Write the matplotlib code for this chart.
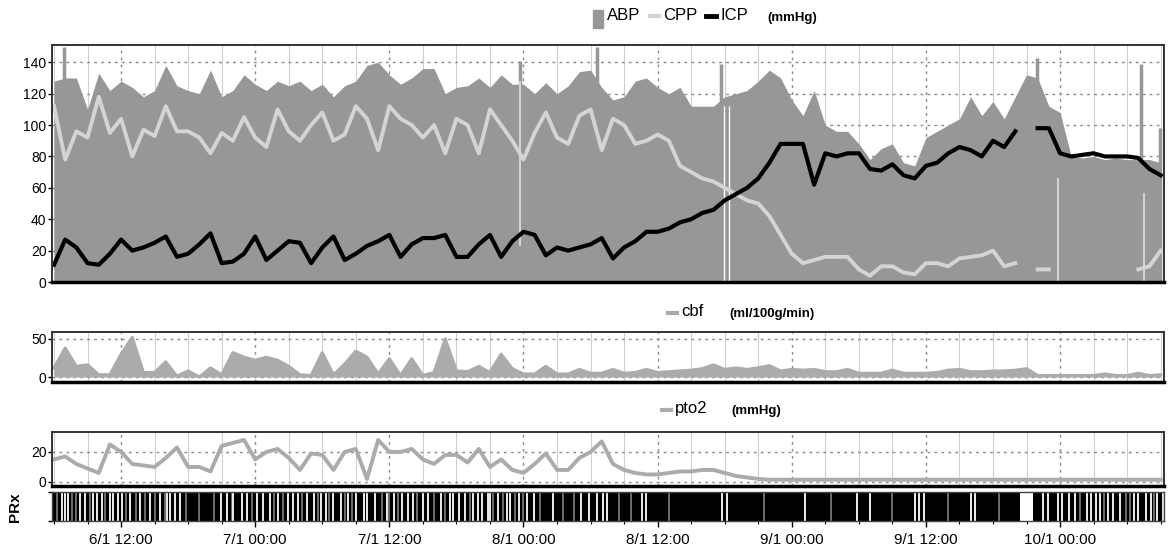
import matplotlib.pyplot as plt
import numpy as np
from matplotlib.patches import Rectangle
from matplotlib.lines import Line2D

plt.rcParams['font.family'] = ['Liberation Sans', 'DejaVu Sans']

nan = np.nan

# hourly samples, hours counted from 6/1 00:00
hours = np.arange(6, 106)

abp = [128, 130, 130, 110, 133, 122, 128, 124, 118, 122, 138, 125, 122, 120, 135, 118,
       122, 132, 126, 122, 128, 125, 128, 122, 126, 118, 125, 128, 138, 140, 132, 126,
       130, 136, 136, 120, 124, 125, 130, 124, 132, 126, 126, 120, 127, 120, 125, 134,
       135, 124, 116, 118, 128, 130, 124, 120, 124, 112, 112, 112, 118, 120, 122, 128,
       135, 130,
       116, 106, 122, 100, 96, 96, 88, 78, 85, 88, 76, 74, 92, 96, 100, 104,
       118, 106, 115, 104, 118, 132, 130, 112, 108, 80, 79, 80, 78, 79, 78, 78,
       78, 76]

# narrow ABP spikes (hour, peak value)
abp_spike_hours = [6.9, 47.7, 54.6, 65.7, 93.9, 103.2, 104.9]
abp_spike_tops = [150, 141, 150, 139, 143, 139, 98]
# hours where ABP drops out (thin white gaps)
abp_gap_hours = [65.95, 66.4]

cpp = [112, 78, 96, 92, 118, 95, 104, 80, 97, 93, 112, 96, 96, 92, 82, 95,
       90, 105, 92, 86, 110, 96, 90, 100, 108, 90, 94, 112, 104, 84, 112, 104,
       100, 92, 100, 82, 104, 100, 82, 110, 100, 90, 78, 95, 108, 92, 88, 106,
       110, 84, 104, 100, 88, 90, 94, 90, 74, 70, 66, 64, 60, 56, 52, 50,
       42, 30,
       18, 12, 14, 16, 16, 16, 8, 4, 10, 10, 6, 5, 12, 12, 10, 15,
       16, 17, 20, 10, 12, nan, 8, 8, nan, nan, nan, nan, 4, nan, nan, 8,
       10, 20]

# short CPP artefact spikes (hour, from, to)
cpp_spike_hours = [47.7, 95.8, 103.5]
cpp_spike_lows = [23, 0, 0]
cpp_spike_tops = [128, 66, 57]

icp = [11, 27, 22, 12, 11, 18, 27, 20, 22, 25, 29, 16, 18, 24, 31, 12,
       13, 18, 29, 14, 20, 26, 25, 12, 22, 29, 14, 18, 23, 26, 30, 16,
       24, 28, 28, 30, 16, 16, 24, 30, 16, 26, 32, 30, 17, 22, 20, 22,
       24, 28, 15, 22, 26, 32, 32, 34, 38, 40, 44, 46, 52, 56, 60, 66,
       76, 88,
       88, 88, 62, 82, 80, 82, 82, 72, 71, 75, 68, 66, 74, 76, 82, 86,
       84, 80, 90, 86, 96, nan, 98, 98, 82, 80, 81, 82, 80, 80, 80, 79,
       72, 68]

cbf = [12, 38, 14, 16, 3, 3, 30, 52, 6, 6, 20, 1, 8, 0, 12, 3,
       32, 26, 22, 26, 22, 14, 3, 2, 32, 3, 17, 34, 26, 4, 24, 2,
       24, 2, 6, 50, 8, 7, 14, 6, 30, 11, 4, 4, 14, 4, 4, 10,
       5, 5, 10, 5, 6, 10, 6, 7, 8, 9, 11, 16, 10, 12, 10, 12,
       15, 8, 10, 9, 10, 7, 7, 10, 5, 5, 5, 9, 5, 5, 5, 6,
       9, 10, 7, 7, 8, 8, 9, 11, 2, 2, 2, 2, 2, 2, 4, 2,
       2, 5, 2, 3]

pto2 = [15, 17, 12, 9, 6, 25, 20, 12, 11, 10, 16, 23, 10, 10, 7, 24,
        26, 28, 15, 20, 22, 16, 8, 19, 18, 8, 20, 22, 2, 28, 20, 20,
        22, 15, 12, 18, 18, 13, 22, 10, 15, 8, 6, 12, 19, 8, 8, 16,
        20, 27, 12, 8, 6, 5, 5, 6, 7, 7, 8, 8, 6, 4, 3, 2,
        1.5, 1.5, 1.5, 1.5, 1.5, 1.5, 1.5, 1.5, 1.5, 1.5, 1.5, 1.5, 1.5, 1.5, 1.5, 1.5,
        1.5, 1.5, 1.5, 1.5, 1.5, 1.5, 1.5, 1.5, 1.5, 1.5, 1.5, 1.5, 1.5, 1.5, 1.5, 1.5,
        1.5, 1.5, 1.5, 1.5]

# PRx strip: hours where the index bar is white (low PRx) or grey; rest is black
prx_low = [6.7, 7.0, 7.25, 8.3, 8.8, 9.5, 9.85, 10.3, 11.0, 11.3, 11.7, 12.1, 12.8,
           13.7, 14.6, 15.5, 16.1, 16.4, 16.8, 17.3, 20.9, 21.5, 22.0, 22.8, 23.3,
           24.2, 24.7, 25.3, 26.0, 26.9, 27.4, 27.8, 28.6, 29.3, 29.9, 30.3, 31.0,
           31.7, 32.3, 33.0, 33.75, 34.0, 34.7, 35.8, 36.4, 37.15, 37.7, 38.1, 39.0,
           39.5, 40.6, 41.45, 41.7, 42.2, 42.8, 43.5, 43.9, 44.3, 44.8, 45.0, 45.7,
           46.55, 46.8, 47.6, 48.35, 48.9, 50.6, 53.1, 53.9, 54.6, 55.1, 55.5, 58.6,
           59.0, 65.8, 66.2, 73.2, 77.8, 79.0, 83.0, 83.4, 83.8, 88.0, 88.4, 94.5,
           94.9, 95.8, 96.15, 96.8, 97.3, 98.4, 98.75, 99.2, 99.6, 100.3, 100.7,
           101.4, 102.6, 103.0, 103.7, 104.1, 104.7, 105.2]
prx_mid = [6.3, 7.6, 8.0, 9.2, 10.6, 12.4, 13.3, 14.1, 15.0, 15.9, 17.8, 19.0,
           20.3, 21.9, 23.7, 25.7, 26.5, 28.2, 29.6, 30.6, 32.0, 32.7, 35.3, 36.0,
           36.8, 38.5, 40.0, 41.0, 43.2, 45.3, 46.2, 47.2, 48.0, 49.5, 51.5, 52.5,
           56.5, 57.6, 61.0, 69.5, 75.5, 81.0, 86.0, 90.5, 97.8, 99.9, 101.9, 102.3,
           104.4]
prx_gap = (92.4, 93.6)

tick_hours = [12, 24, 36, 48, 60, 72, 84, 96]
tick_labels = ['6/1 12:00', '7/1 00:00', '7/1 12:00', '8/1 00:00',
               '8/1 12:00', '9/1 00:00', '9/1 12:00', '10/1 00:00']

W, H = 1168, 552
fig = plt.figure(figsize=(W / 100, H / 100), dpi=100)


def box(top, bottom):
    return [52 / W, 1 - bottom / H, 1112 / W, (bottom - top) / H]


def style(ax, yticks, ylim):
    ax.set_xlim(5.82, 105.3)
    ax.set_ylim(*ylim)
    ax.set_yticks(yticks)
    ax.set_xticks(tick_hours)
    ax.set_xticks(np.arange(6, 106, 3), minor=True)
    ax.grid(True, which='major', color='#8a8a8a', ls=(0, (2, 3)), lw=1)
    ax.grid(True, which='minor', axis='x', color='#cfcfcf', ls='-', lw=0.8)
    ax.set_axisbelow(True)
    ax.tick_params(axis='x', which='both', length=0, labelbottom=False)
    ax.tick_params(axis='y', length=3, width=1, labelsize=10, pad=1)
    for s in ax.spines.values():
        s.set_linewidth(1.4)
        s.set_color('#333333')
    ax.spines['bottom'].set_linewidth(2.5)
    ax.spines['bottom'].set_color('black')


# top panel: ABP / CPP / ICP
ax1 = fig.add_axes(box(45, 282))
ax1.fill_between(hours, 0, abp, color='#979797', lw=0)
ax1.vlines(abp_spike_hours, 0, abp_spike_tops, color='#979797', lw=2.5)
ax1.vlines(abp_gap_hours, 0, 112, color='white', lw=1)
ax1.plot(hours, cpp, color='#d4d4d4', lw=2.8)
ax1.vlines(cpp_spike_hours, cpp_spike_lows, cpp_spike_tops, color='#d4d4d4', lw=1.5)
ax1.plot(hours, icp, color='black', lw=3)
style(ax1, np.arange(0, 141, 20), (0, 151))

# cbf panel
ax2 = fig.add_axes(box(332, 382))
ax2.fill_between(hours, 0, cbf, color='#ababab', lw=0)
ax2.plot(hours, cbf, color='#ababab', lw=2.2)
style(ax2, [0, 50], (-6.5, 59))

# pto2 panel
ax3 = fig.add_axes(box(432, 486))
ax3.plot(hours, pto2, color='#ababab', lw=2.8)
style(ax3, [0, 20], (-2.7, 33.3))

# PRx strip
ax4 = fig.add_axes(box(492, 521))
ax4.set_facecolor('black')
ax4.vlines(prx_mid, 0, 1, color='#8c8c8c', lw=1.1)
ax4.vlines(prx_low, 0, 1, color='white', lw=1.3)
ax4.axvspan(*prx_gap, color='white', lw=0)
ax4.set_xlim(5.82, 105.3)
ax4.set_ylim(0, 1)
ax4.set_yticks([0, 1])
ax4.set_yticklabels([])
ax4.tick_params(axis='y', length=3, width=1)
ax4.set_xticks(tick_hours)
ax4.set_xticklabels(tick_labels)
ax4.set_xticks(np.arange(6, 106, 3), minor=True)
ax4.tick_params(axis='x', which='major', length=4, width=1, labelsize=11, pad=5)
ax4.tick_params(axis='x', which='minor', length=2, width=0.8)
for s in ax4.spines.values():
    s.set_color('#444444')
    s.set_linewidth(1)

fig.text(15 / W, 1 - 507 / H, 'PRx', rotation=90, ha='center', va='center',
         fontsize=11, fontweight='bold')


# legends drawn in figure pixels
def fx(px):
    return px / W


def fy(py):
    return 1 - py / H


fig.add_artist(Rectangle((fx(593), fy(28)), 10 / W, 18 / H, color='#979797',
                         transform=fig.transFigure))
fig.text(fx(607), fy(16), 'ABP', fontsize=12, va='center')
fig.add_artist(Line2D([fx(650), fx(659)], [fy(16)] * 2, color='#d4d4d4', lw=3,
                      transform=fig.transFigure))
fig.text(fx(663), fy(16), 'CPP', fontsize=12, va='center')
fig.add_artist(Line2D([fx(706), fx(716)], [fy(16)] * 2, color='black', lw=3.5,
                      transform=fig.transFigure))
fig.text(fx(720), fy(16), 'ICP', fontsize=12, va='center')
fig.text(fx(767), fy(18), '(mmHg)', fontsize=9.5, fontweight='bold', va='center')

fig.add_artist(Line2D([fx(668), fx(677)], [fy(313)] * 2, color='#ababab', lw=3,
                      transform=fig.transFigure))
fig.text(fx(681), fy(312), 'cbf', fontsize=12, va='center')
fig.text(fx(729), fy(314), '(ml/100g/min)', fontsize=9.5, fontweight='bold',
         va='center')

fig.add_artist(Line2D([fx(662), fx(671)], [fy(410)] * 2, color='#ababab', lw=3,
                      transform=fig.transFigure))
fig.text(fx(675), fy(409), 'pto2', fontsize=12, va='center')
fig.text(fx(731), fy(411), '(mmHg)', fontsize=9.5, fontweight='bold', va='center')

fig.savefig('out.png', dpi=100)
